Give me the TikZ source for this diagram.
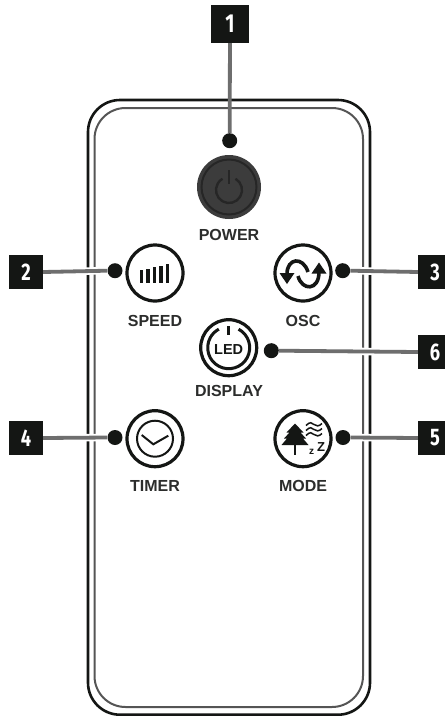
\documentclass[tikz,border=0pt]{standalone}
\usepackage{fontspec}
\usepackage{xcolor}
\usetikzlibrary{positioning}
\setmainfont{Liberation Sans}
\newfontfamily\badgefont[FakeStretch=0.76]{Fira Sans}
\definecolor{inkblack}{HTML}{141614}
\definecolor{leadgray}{HTML}{6E6E6E}
\definecolor{shellgray}{HTML}{555555}
\definecolor{powergray}{HTML}{3C3C3C}
\tikzset{
  badge/.style={fill=inkblack, text=white, minimum size=34pt, inner sep=0pt, font=\badgefont\bfseries\fontsize{24}{26}\selectfont},
  dot/.style={circle, fill=inkblack, minimum size=15pt, inner sep=0pt},
  btn/.style={circle, draw=inkblack, line width=3.2pt, fill=white, minimum size=56pt, inner sep=0pt},
  btnlabel/.style={text=inkblack!90, inner sep=0pt, font=\bfseries\fontsize{16}{18}\selectfont},
  lead/.style={line width=3.8pt, draw=leadgray},
  halo/.style={line width=7.5pt, draw=white},
  icon/.style={line width=2.6pt, draw=inkblack},
  solidicon/.style={fill=inkblack, draw=none}
}
\begin{document}
\begin{tikzpicture}[x=1pt, y=-1pt]
  \useasboundingbox (0,0) rectangle (445,716);
  \fill[white] (0,0) rectangle (445,716);

  % remote body
  \draw[line width=2.6pt, draw=inkblack, rounded corners=32pt] (88,100) rectangle (370,714.7);
  \draw[line width=2pt, draw=shellgray, rounded corners=31pt] (94.5,108) rectangle (363,707);

  \node[badge, minimum size=38pt, font=\badgefont\bfseries\fontsize{26}{28}\selectfont] (badge1) at (230,24) {1};
  \node[badge] (badge2) at (26,272) {2};
  \node[badge] (badge3) at (435,272) {3};
  \node[badge] (badge4) at (26,438) {4};
  \node[badge] (badge5) at (435,438) {5};
  \node[badge] (badge6) at (435,352) {6};

  \node[dot] (dot1) at (229.7,140.7) {};
  \node[dot] (dot2) at (115,270.7) {};
  \node[dot] (dot3) at (342.7,270.7) {};
  \node[dot] (dot4) at (115,437.5) {};
  \node[dot] (dot5) at (343,437.5) {};
  \node[dot] (dot6) at (271.3,350.7) {};

  \draw[lead] (badge1) -- (dot1);
  \draw[halo] (badge2.east) -- (dot2.west);
  \draw[lead] (badge2.east) -- (dot2.west);
  \draw[halo] (badge3.west) -- (dot3.east);
  \draw[lead] (badge3.west) -- (dot3.east);
  \draw[halo] (badge4.east) -- (dot4.west);
  \draw[lead] (badge4.east) -- (dot4.west);
  \draw[halo] (badge5.west) -- (dot5.east);
  \draw[lead] (badge5.west) -- (dot5.east);
  \draw[halo] (badge6.west) -- (dot6.east);
  \draw[lead] (badge6.west) -- (dot6.east);

  % power
  \node[circle, fill=powergray, minimum size=64pt, inner sep=0pt] (power) at (229,187) {};
  \draw[line width=2pt, draw=black!85] (power) circle[radius=27.5];
  \draw[line width=2.4pt, draw=black!85] (229,190) ++(-60:13) arc[start angle=-60, end angle=240, radius=13];
  \draw[line width=2.4pt, draw=black!85] (229,170) -- (229,184);
  \node[btnlabel] (powerlabel) at (229,235) {POWER};

  % speed
  \node[btn] (speed) at (155,273) {};
  \fill[solidicon] (139.6,270) rectangle (143.1,282.7);
  \fill[solidicon] (146,269) rectangle (149.5,282.7);
  \fill[solidicon] (152.6,267.3) rectangle (156.1,282.7);
  \fill[solidicon] (159,265.7) rectangle (162.5,282.7);
  \fill[solidicon] (165.6,264) rectangle (169.1,282.7);
  \node[btnlabel] (speedlabel) at (155,321) {SPEED};

  % osc
  \node[btn] (osc) at (303,273) {};
  \draw[icon, line width=3.6pt] (287,274) .. controls (287,258) and (303,256) .. (308,272);
  \draw[icon, line width=3.6pt] (298,276) .. controls (302,291) and (319,291) .. (319,272);
  \fill[solidicon] (287,284) -- (279.5,273) -- (294.5,273) -- cycle;
  \fill[solidicon] (319,262.5) -- (311.5,273.5) -- (326.5,273.5) -- cycle;
  \node[btnlabel] (osclabel) at (303,321) {OSC};

  % display
  \node[btn] (display) at (228.7,347.7) {};
  \draw[icon, line width=3pt] (228.7,347.7) ++(-62:21) arc[start angle=-62, end angle=242, radius=21];
  \draw[icon, line width=3pt] (228.7,326) -- (228.7,335);
  \node[text=inkblack, inner sep=0pt, font=\bfseries\fontsize{14.5}{16}\selectfont] (ledtext) at (228.7,350) {LED};
  \node[btnlabel] (displaylabel) at (229,391) {DISPLAY};

  % timer
  \node[btn] (timer) at (155,438.7) {};
  \draw[line width=2pt, draw=inkblack] (timer) circle[radius=18];
  \draw[line width=2pt, draw=inkblack] (141.7,435) -- (153.3,444.3) -- (168.3,435.7);
  \node[btnlabel] (timerlabel) at (155,486) {TIMER};

  % mode
  \node[btn] (mode) at (303,438.7) {};
  \fill[solidicon] (295,423.5) -- (303.5,432.5) -- (300.5,432.5) -- (306,438.5) -- (303,438.5) -- (308.5,445) -- (281.5,445) -- (287,438.5) -- (284,438.5) -- (289.5,432.5) -- (286.5,432.5) -- cycle;
  \draw[icon] (295,444) -- (295,455);
  \draw[line width=1.5pt, draw=inkblack] (306,425.5) .. controls (310,421.5) and (312,422.5) .. (314,424.5) .. controls (316,426.5) and (319,426.5) .. (322,423.5);
  \draw[line width=1.5pt, draw=inkblack] (306,430.5) .. controls (310,426.5) and (312,427.5) .. (314,429.5) .. controls (316,431.5) and (319,431.5) .. (322,428.5);
  \draw[line width=1.5pt, draw=inkblack] (306,435.5) .. controls (310,431.5) and (312,432.5) .. (314,434.5) .. controls (316,436.5) and (319,436.5) .. (322,433.5);
  \node[text=inkblack, inner sep=0pt, font=\bfseries\fontsize{10}{12}\selectfont] (smallz) at (311.7,452) {z};
  \node[text=inkblack, inner sep=0pt, font=\bfseries\fontsize{13}{15}\selectfont] (bigz) at (321,447) {Z};
  \node[btnlabel] (modelabel) at (303,486) {MODE};
\end{tikzpicture}
\end{document}
